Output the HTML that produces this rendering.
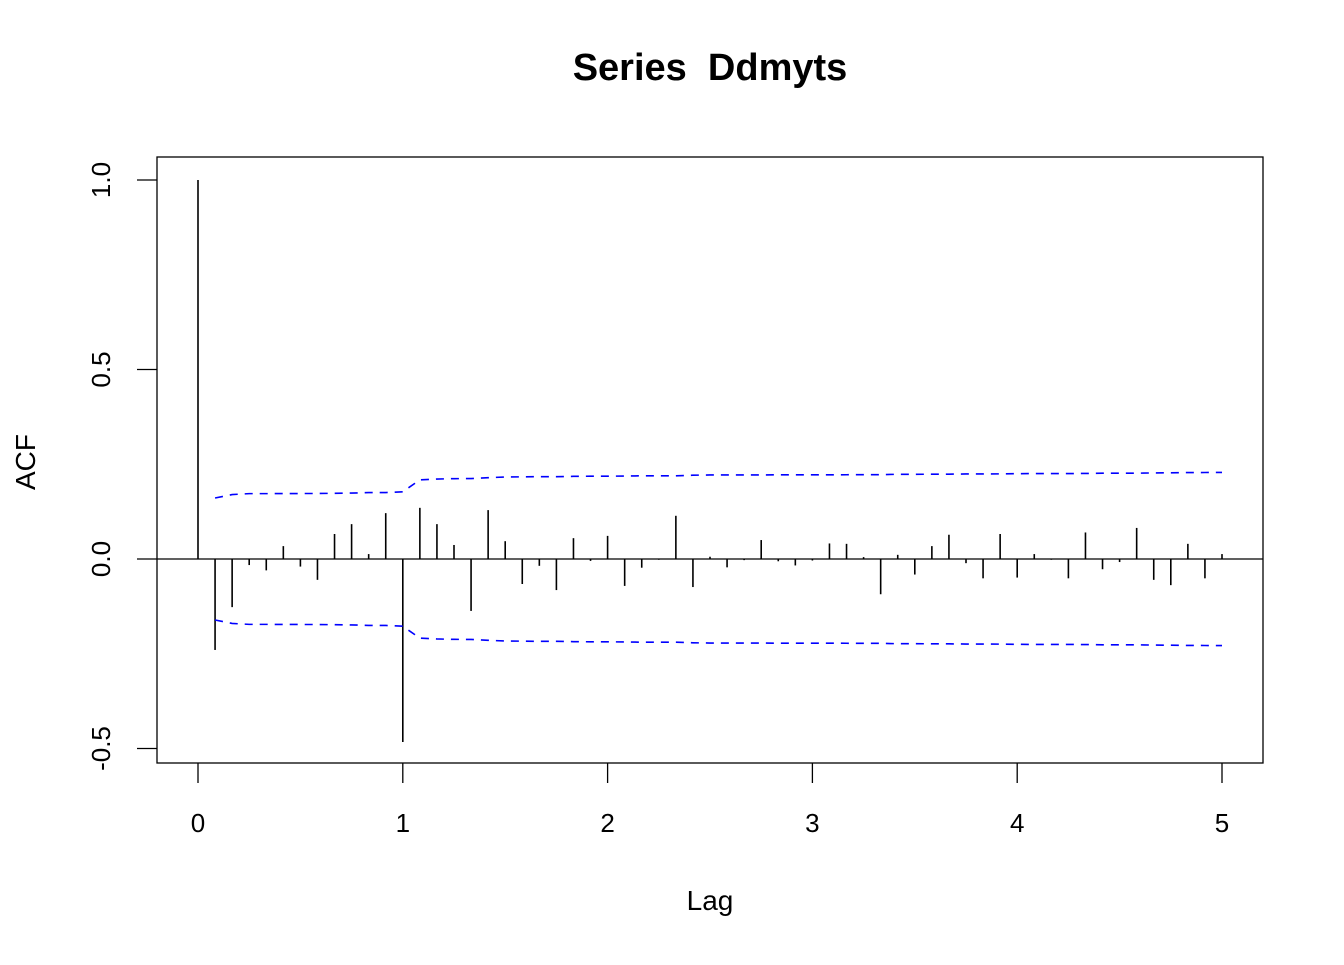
<!DOCTYPE html>
<html><head><meta charset="utf-8"><style>
body{margin:0;background:#fff;}
svg text{font-family:"Liberation Sans",Arial,sans-serif;white-space:pre;}
</style></head><body>
<svg width="1344" height="960" xmlns="http://www.w3.org/2000/svg">
<rect width="1344" height="960" fill="#fff"/>
<g id="g"></g>
</svg>
<script>
const lags = Array.from({length:61},(_,k)=>k/12);
const acfValues = [1.0,-0.24,-0.127,-0.016,-0.03,0.034,-0.02,-0.055,0.066,0.092,0.013,0.121,-0.483,0.135,0.092,0.037,-0.137,0.129,0.047,-0.066,-0.018,-0.082,0.055,-0.005,0.061,-0.071,-0.023,-0.002,0.114,-0.074,0.006,-0.022,-0.003,0.05,-0.006,-0.017,-0.004,0.041,0.04,0.005,-0.093,0.011,-0.041,0.034,0.064,-0.011,-0.051,0.066,-0.049,0.013,-0.002,-0.051,0.07,-0.027,-0.008,0.082,-0.055,-0.069,0.04,-0.051,0.013];
const xTicks = [0,1,2,3,4,5];
const yTicks = [-0.5,0.0,0.5,1.0];
const yTickLabels = ["-0.5","0.0","0.5","1.0"];
const ciBase = 0.161;

const NS="http://www.w3.org/2000/svg";
const g=document.getElementById('g');
const X=v=>198+v*204.8;
const Y=v=>559-v*379;
function mk(tag,attrs,parent){const e=document.createElementNS(NS,tag);for(const k in attrs)e.setAttribute(k,attrs[k]);(parent||g).appendChild(e);return e;}

const box=mk('rect',{x:157,y:157,width:1106,height:606,fill:'none',stroke:'#000','stroke-width':1.3});



const zl=mk('line',{x1:157,x2:1263,y1:Y(0),y2:Y(0),stroke:'#000','stroke-width':1.3});



acfValues.forEach((v,i)=>{
  const b=mk('line',{x1:X(lags[i]),x2:X(lags[i]),y1:Y(0),y2:Y(v),stroke:'#000','stroke-width':1.6});
  
  
});

let cum=1, up=[], lo=[];
for(let k=1;k<acfValues.length;k++){
  const c=ciBase*Math.sqrt(cum);
  up.push(X(lags[k])+','+Y(c)); lo.push(X(lags[k])+','+Y(-c));
  cum+=2*acfValues[k]*acfValues[k];
}
const cu=mk('polyline',{points:up.join(' '),fill:'none',stroke:'#0000ff','stroke-width':1.6,'stroke-dasharray':'8 7'});


const cl=mk('polyline',{points:lo.join(' '),fill:'none',stroke:'#0000ff','stroke-width':1.6,'stroke-dasharray':'8 7'});



xTicks.forEach(t=>{
  const l=mk('line',{x1:X(t),x2:X(t),y1:763,y2:783,stroke:'#000','stroke-width':1.3});
  
  
  const tx=mk('text',{x:X(t),y:832,'font-size':26,'text-anchor':'middle'});
  tx.textContent=t;
  
  
});
yTicks.forEach((t,i)=>{
  const l=mk('line',{x1:137,x2:157,y1:Y(t),y2:Y(t),stroke:'#000','stroke-width':1.3});
  
  
  const tx=mk('text',{x:0,y:0,'font-size':26,'text-anchor':'middle',transform:`translate(110,${Y(t)}) rotate(-90)`});
  tx.textContent=yTickLabels[i];
  
  
});
const title=mk('text',{x:710,y:80,'font-size':38,'font-weight':'bold','text-anchor':'middle'});
title.textContent='Series  Ddmyts';


const xt=mk('text',{x:710,y:910,'font-size':28,'text-anchor':'middle'});
xt.textContent='Lag';


const yt=mk('text',{x:0,y:0,'font-size':28,'text-anchor':'middle',transform:'translate(35,462) rotate(-90)'});
yt.textContent='ACF';


</script>
</body></html>
